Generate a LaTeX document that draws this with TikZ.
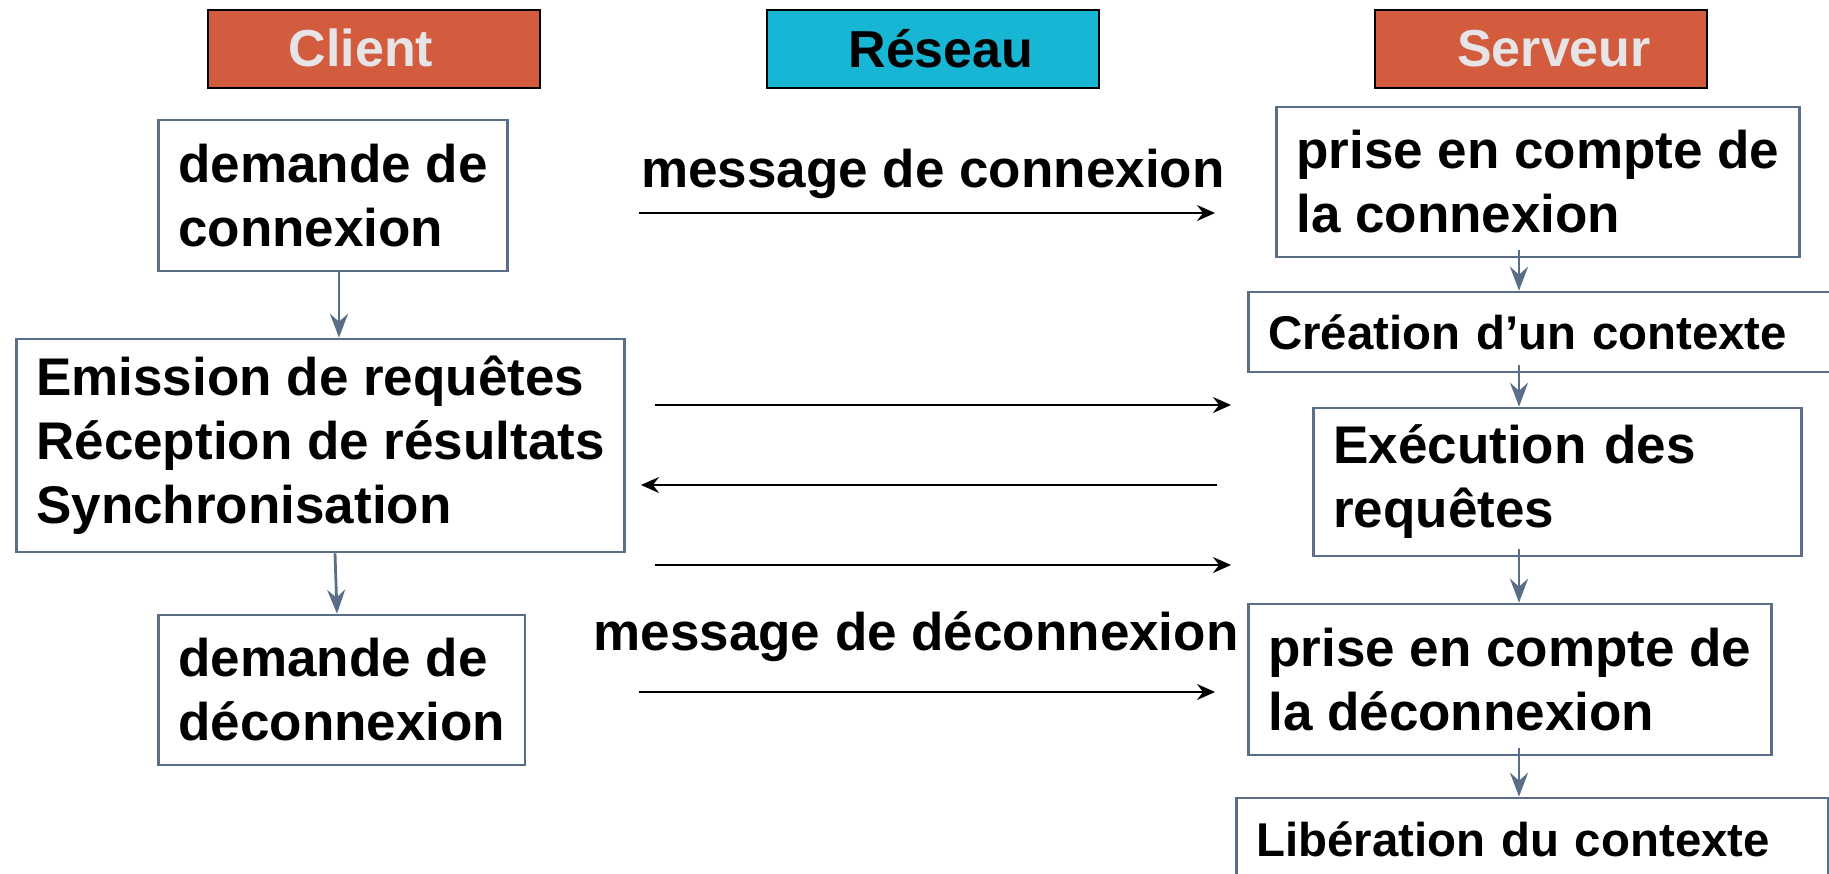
\documentclass[tikz,border=0pt]{standalone}
\usepackage{xcolor}
\usepackage{fontspec}
\setmainfont{Liberation Sans}
\usepackage{tikz}
\usetikzlibrary{arrows.meta}

\definecolor{rouille}{HTML}{D35B3E}
\definecolor{cyanres}{HTML}{16B6D4}
\definecolor{grisbord}{HTML}{5A6E89}
\definecolor{clair}{HTML}{E6E4E6}

\tikzset{
  entete/.style={draw=black, line width=1pt, minimum width=166pt, minimum height=39pt, text depth=1pt, font=\fontsize{26}{30}\selectfont\bfseries},
  boite/.style={draw=grisbord, line width=1.3pt, anchor=west, inner xsep=10pt, inner ysep=0pt, font=\fontsize{26.5}{32}\selectfont\bfseries, align=left},
  petite/.style={boite, font=\fontsize{23.7}{29}\selectfont\bfseries},
  flux/.style={draw=grisbord, line width=1.4pt, -{Stealth[length=12pt, width=9pt, inset=4pt]}},
  msg/.style={black, line width=1pt, -{Stealth[length=9pt, width=8pt, inset=3pt]}},
  legende/.style={font=\fontsize{26.5}{32}\selectfont\bfseries, anchor=base}
}

\begin{document}
\begin{tikzpicture}[x=0.5pt, y=-0.5pt]
\useasboundingbox (0,0) rectangle (1829,873);
\node[entete, fill=rouille, text=clair] (Client) at (374,49) {Client\kern13pt};
\node[entete, fill=cyanres, text=black] (Reseau) at (933,49) {\kern8pt Réseau};
\node[entete, fill=rouille, text=clair] (Serveur) at (1541,49) {\kern13pt Serveur};
\node[boite, minimum height=75.5pt] (dcon) at (157,195.5) {demande de\\connexion};
\node[boite, minimum height=106.5pt] (emis) at (15,445.5) {Emission de requêtes\\Réception de résultats\\Synchronisation};
\node[boite, minimum height=75pt] (ddec) at (157,690) {demande de\\déconnexion};
\node[boite, minimum height=75pt] (pcon) at (1275,182) {prise en compte de\\la connexion};
\node[petite, minimum height=40pt, text width=280pt] (crea) at (1247,332) {Création d’un contexte};
\node[boite, minimum height=74pt, text width=224pt] (exec) at (1312,482) {Exécution des\\requêtes};
\node[boite, minimum height=75.5pt] (pdec) at (1247,679.5) {prise en compte de\\la déconnexion};
\node[petite, minimum height=41pt, text width=276pt] (libe) at (1235,839) {Libération du contexte};
\node[legende] (Lcon) at (933,187) {message de connexion};
\node[legende] (Ldec) at (916,650) {message de déconnexion};
\coordinate (c1a) at (639,213); \coordinate (c1b) at (1215,213);
\coordinate (r1a) at (655,405); \coordinate (r1b) at (1231,405);
\coordinate (r2a) at (1217,485); \coordinate (r2b) at (641,485);
\coordinate (r3a) at (655,565); \coordinate (r3b) at (1231,565);
\coordinate (d1a) at (639,692); \coordinate (d1b) at (1215,692);
\foreach \a/\b in {c1a/c1b,r1a/r1b,r2a/r2b,r3a/r3b,d1a/d1b}\draw[msg] (\a) -- (\b);
\coordinate (srv) at (1519,0);
\draw[flux] (dcon.south -| 339,0) -- (emis.north -| 339,0);
\draw[flux] (emis.south -| 335,0) -- (ddec.north -| 337,0);
\foreach \a/\b in {pcon/crea,crea/exec,exec/pdec,pdec/libe}\draw[flux] ([yshift=4pt]\a.south -| srv) -- (\b.north -| srv);
\end{tikzpicture}
\end{document}
